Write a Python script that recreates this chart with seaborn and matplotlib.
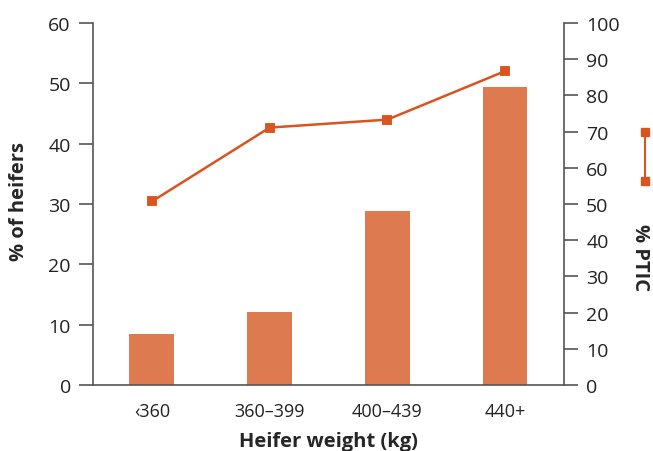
import matplotlib
matplotlib.use("Agg")
import matplotlib.pyplot as plt
from matplotlib.lines import Line2D
import seaborn as sns
import pandas as pd

# data
weight_bins = ["\u2039360", "360\u2013399", "400\u2013439", "440+"]
pct_heifers = [8.5, 12.1, 28.9, 49.4]
pct_ptic = [50.7, 71.1, 73.3, 86.7]

bar_color = "#DE7A4F"
line_color = "#D9541E"
spine_color = "#555555"

sns.set_style("white")
plt.rcParams["font.family"] = ["Open Sans", "DejaVu Sans"]

df = pd.DataFrame({"weight": weight_bins, "heifers": pct_heifers, "ptic": pct_ptic})

fig = plt.figure(figsize=(6.53, 4.52), dpi=100)
ax = fig.add_axes([0.1424, 0.146, 0.7213, 0.801])

sns.barplot(data=df, x="weight", y="heifers", order=weight_bins, color=bar_color,
            saturation=1, width=0.38, edgecolor="none", ax=ax)

ax2 = ax.twinx()
sns.pointplot(data=df, x="weight", y="ptic", order=weight_bins, color=line_color,
              markers="s", markersize=6, linewidth=1.8, ax=ax2)

ax.set_xlim(-0.5, 3.5)
ax2.set_xlim(-0.5, 3.5)
ax.set_ylim(0, 60)
ax2.set_ylim(0, 100)
ax.set_yticks(range(0, 61, 10))
ax2.set_yticks(range(0, 101, 10))

for a in (ax, ax2):
    a.spines["top"].set_visible(False)
    for s in ("left", "right", "bottom"):
        a.spines[s].set_color(spine_color)
        a.spines[s].set_linewidth(1.2)
    a.tick_params(axis="y", length=10, width=1.2, color=spine_color,
                  labelsize=14, labelcolor="#222222", pad=6)
    a.tick_params(axis="x", length=0, labelsize=13, labelcolor="#222222", pad=12)
    a.grid(False)

ax.spines["right"].set_visible(False)
ax2.spines["left"].set_visible(False)
ax2.spines["bottom"].set_visible(False)
ax.tick_params(axis="y", left=True, right=False)
ax2.tick_params(axis="y", right=True, left=False)

ax.set_xlabel("Heifer weight (kg)", fontsize=14.5, fontweight="bold", labelpad=8)
ax.set_ylabel("% of heifers", fontsize=14.5, fontweight="bold",
              va="center", ha="center")
ax.yaxis.set_label_coords(-0.158, 0.51)
ax2.set_xlabel("")
ax2.set_ylabel("% PTIC", fontsize=14.5, fontweight="bold", rotation=270,
               va="center", ha="center")
ax2.yaxis.set_label_coords(1.162, 0.355)

# small vertical legend glyph at the right edge
fig.add_artist(Line2D([0.987, 0.987], [0.705, 0.598], transform=fig.transFigure,
                      color=line_color, lw=1.5, marker="s", markersize=6))

fig.savefig("out.png", dpi=100)
